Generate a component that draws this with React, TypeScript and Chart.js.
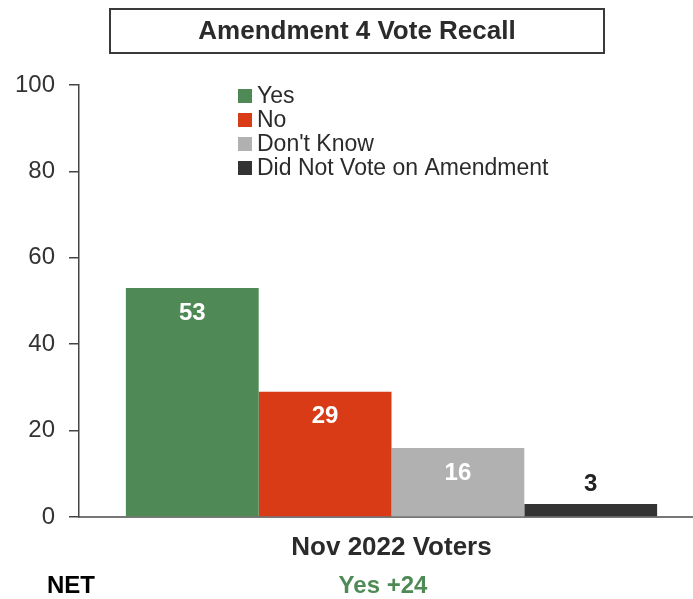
import React, { useEffect, useRef } from "react";
import { Chart, registerables } from "chart.js";

Chart.register(...registerables);

const categories = ["Nov 2022 Voters"];
const seriesNames = ["Yes", "No", "Don't Know", "Did Not Vote on Amendment"];
const seriesValues = [53, 29, 16, 3];
const seriesColors = ["#4f8a56", "#d83b16", "#b1b1b1", "#333333"];
const labelInside = [true, true, true, false];
const labelColors = ["#ffffff", "#ffffff", "#ffffff", "#222222"];
const yTicks = [0, 20, 40, 60, 80, 100];
const titleText = "Amendment 4 Vote Recall";
const netLabel = "NET";
const netValue = "Yes +24";

const FONT = "'Liberation Sans', Arial, sans-serif";
const CANVAS_W = 704;

const overlayPlugin = {
  id: "overlay",
  afterDatasetsDraw(chart: any) {
    const ctx = chart.ctx;
    ctx.save();
    chart.data.datasets.forEach((ds: any, i: number) => {
      const el = chart.getDatasetMeta(i).data[0];
      if (!el) return;
      ctx.font = `bold 24px ${FONT}`;
      ctx.textAlign = "center";
      ctx.textBaseline = "middle";
      ctx.fillStyle = labelColors[i];
      const y = labelInside[i] ? el.y + 25 : el.y - 20;
      ctx.fillText(String(ds.data[0]), el.x, y);
    });
    ctx.restore();
  },
  afterDraw(chart: any) {
    const ctx = chart.ctx;
    ctx.save();
    // title box
    ctx.strokeStyle = "#3a3a3a";
    ctx.lineWidth = 2;
    ctx.strokeRect(110, 9, 494, 44);
    ctx.fillStyle = "#2b2b2b";
    ctx.font = `bold 26px ${FONT}`;
    ctx.textAlign = "center";
    ctx.textBaseline = "middle";
    ctx.fillText(titleText, 357, 32);
    // legend
    ctx.textAlign = "left";
    ctx.font = `23px ${FONT}`;
    seriesNames.forEach((name, i) => {
      const cy = 96 + i * 24;
      ctx.fillStyle = seriesColors[i];
      ctx.fillRect(238, cy - 7, 14, 14);
      ctx.fillStyle = "#2b2b2b";
      ctx.fillText(name, 257, cy + 1);
    });
    // NET row
    ctx.font = `bold 24px ${FONT}`;
    ctx.fillStyle = "#000000";
    ctx.textAlign = "left";
    ctx.fillText(netLabel, 47, 586);
    ctx.fillStyle = seriesColors[0];
    ctx.textAlign = "center";
    ctx.fillText(netValue, 383, 586);
    ctx.restore();
  },
};

export default function App() {
  const ref = useRef<HTMLCanvasElement | null>(null);
  useEffect(() => {
    document.body.style.margin = "0";
    if (!ref.current) return;
    const chart = new Chart(ref.current, {
      type: "bar",
      data: {
        labels: categories,
        datasets: seriesNames.map((name, i) => ({
          label: name,
          data: [seriesValues[i]],
          backgroundColor: seriesColors[i],
          borderWidth: 0,
          categoryPercentage: 0.85,
          barPercentage: 1,
        })),
      },
      options: {
        animation: false,
        responsive: false,
        maintainAspectRatio: false,
        layout: { padding: { top: 85, left: 0, right: 0, bottom: 0 } },
        plugins: {
          legend: { display: false },
          title: { display: false },
          tooltip: { enabled: false },
        },
        scales: {
          x: {
            grid: { display: false, drawTicks: false },
            border: { color: "#777777", width: 2 },
            ticks: {
              color: "#2b2b2b",
              font: { family: FONT, size: 26, weight: "bold" },
              padding: 15,
            },
            afterFit: (s: any) => {
              s.height = 82;
            },
          },
          y: {
            min: 0,
            max: 100,
            afterBuildTicks: (s: any) => {
              s.ticks = yTicks.map((v) => ({ value: v }));
            },
            grid: { drawOnChartArea: false, tickLength: 10, color: "#444444", lineWidth: 1.5 },
            border: { color: "#444444", width: 1.5 },
            ticks: {
              color: "#333333",
              font: { family: FONT, size: 24 },
              padding: 14,
            },
            afterFit: (s: any) => {
              s.width = 79;
            },
          },
        },
      },
      plugins: [overlayPlugin],
    });
    return () => chart.destroy();
  }, []);
  return (
    <div style={{ width: 693, height: 599, position: "relative", overflow: "hidden", background: "#fff" }}>
      <canvas
        ref={ref}
        width={CANVAS_W}
        height={599}
        style={{ width: CANVAS_W, height: 599, display: "block" }}
      />
    </div>
  );
}
